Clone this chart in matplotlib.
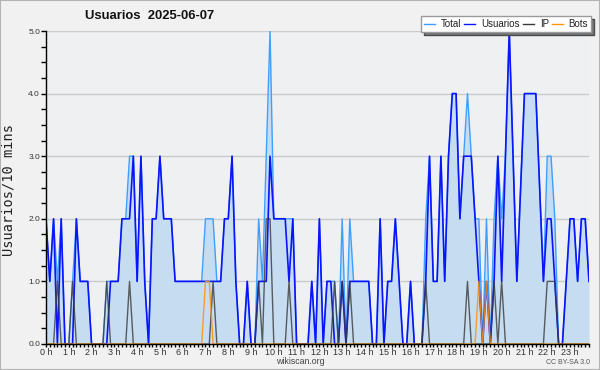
import matplotlib
matplotlib.use("Agg")
import matplotlib.pyplot as plt
from matplotlib.lines import Line2D
from matplotlib.patches import Rectangle
import numpy as np

plt.rcParams['font.family'] = ['Liberation Sans', 'DejaVu Sans']

# one value every 10 minutes, 00:00 .. 23:50
usuarios = [2, 1, 2, 0, 2, 0, 0, 0, 2, 1,
            1, 1, 0, 0, 0, 0, 0, 1, 1, 1,
            2, 2, 2, 3, 1, 3, 1, 0, 2, 2,
            3, 2, 2, 2, 1, 1, 1, 1, 1, 1,
            1, 1, 1, 1, 1, 1, 1, 2, 2, 3,
            1, 0, 0, 1, 0, 0, 1, 1, 1, 3,
            2, 2, 2, 2, 1, 2, 0, 0, 0, 0,
            1, 0, 2, 0, 1, 1, 0, 0, 1, 0,
            1, 1, 1, 1, 1, 1, 0, 0, 2, 0,
            1, 1, 2, 1, 0, 0, 1, 0, 0, 0,
            1, 3, 1, 1, 3, 1, 3, 4, 4, 2,
            3, 3, 3, 2, 1, 0, 1, 0, 1, 3,
            1, 3, 5, 3, 1, 2.5, 4, 4, 4, 4,
            2.5, 1, 2, 2, 1, 0, 0, 1, 2, 2,
            1, 2, 2, 1]

total = [2, 1, 2, 1, 2, 0, 0, 1, 2, 1,
         1, 1, 0, 0, 0, 0, 1, 1, 1, 1,
         2, 2, 3, 3, 1, 3, 1, 0, 2, 2,
         3, 2, 2, 2, 1, 1, 1, 1, 1, 1,
         1, 1, 2, 2, 2, 1, 1, 2, 2, 3,
         1, 0, 0, 1, 0, 0, 2, 1, 3, 5,
         2, 2, 2, 2, 2, 2, 0, 0, 0, 0,
         1, 0, 2, 0, 1, 1, 1, 0, 2, 0,
         2, 1, 1, 1, 1, 1, 0, 0, 2, 0,
         1, 1, 2, 1, 0, 0, 1, 0, 0, 0,
         2, 3, 1, 1, 3, 1, 3, 4, 4, 2,
         3, 4, 3, 2, 2, 0, 2, 0, 2, 3,
         2, 3, 5, 3, 1, 2.5, 4, 4, 4, 4,
         2.5, 1, 3, 3, 2, 0, 0, 1, 2, 2,
         1, 2, 2, 1]

ip = [0, 0, 0, 1, 0, 0, 0, 1, 0, 0,
      0, 0, 0, 0, 0, 0, 1, 0, 0, 0,
      0, 0, 1, 0, 0, 0, 0, 0, 0, 0,
      0, 0, 0, 0, 0, 0, 0, 0, 0, 0,
      0, 0, 0, 0, 1, 0, 0, 0, 0, 0,
      0, 0, 0, 0, 0, 0, 1, 0, 2, 2,
      0, 0, 0, 0, 1, 0, 0, 0, 0, 0,
      0, 0, 0, 0, 0, 0, 1, 0, 1, 0,
      1, 0, 0, 0, 0, 0, 0, 0, 0, 0,
      0, 0, 0, 0, 0, 0, 0, 0, 0, 0,
      1, 0, 0, 0, 0, 0, 0, 0, 0, 0,
      0, 1, 0, 0, 0, 0, 0, 0, 1, 0,
      1, 0, 0, 0, 0, 0, 0, 0, 0, 0,
      0, 0, 1, 1, 1, 0, 0, 0, 0, 0,
      0, 0, 0, 0]

bots = [0] * 144
for k in (42, 43, 114, 116):
    bots[k] = 1

hours = np.arange(len(usuarios)) / 6.0
hour_labels = ['%d h' % h for h in range(24)]

c_total = '#3f9fff'
c_usu = '#0a14ff'
c_ip = '#3a3a3a'
c_bots = '#ff9400'

fig = plt.figure(figsize=(6, 3.7), dpi=100, facecolor='#f1f1f1')
ax = fig.add_axes([46 / 600, 1 - 344 / 370, 543 / 600, 313 / 370])
ax.set_facecolor('#eef0f2')

ax.fill_between(hours, total, 0, color='#c6dcf0', lw=0, zorder=1)
ax.plot(hours, total, color=c_total, lw=1.0, zorder=3)
ax.plot(hours, usuarios, color=c_usu, lw=1.2, zorder=4)
ax.plot(hours, ip, color=c_ip, lw=1.0, alpha=0.8, zorder=5)
ax.plot(hours, bots, color=c_bots, lw=1.0, alpha=0.85, zorder=6)

ax.set_xlim(0, hours[-1])
ax.set_ylim(0, 5)

ax.set_yticks(range(6))
ax.set_yticklabels(['%.1f' % v for v in range(6)])
ax.set_yticks(np.arange(0, 5.01, 0.25), minor=True)
ax.set_xticks(range(24))
ax.set_xticklabels(hour_labels)
ax.set_xticks(np.arange(0, hours[-1] + 0.01, 1 / 6), minor=True)

ax.yaxis.grid(True, color='#cbcbcb', lw=1)
ax.set_axisbelow(True)
for s in ('top', 'right'):
    ax.spines[s].set_visible(False)
for s in ('left', 'bottom'):
    ax.spines[s].set_color('black')
    ax.spines[s].set_linewidth(1)
    ax.spines[s].set_zorder(10)

ax.tick_params(axis='y', which='both', length=3.5, width=1, color='black',
               labelsize=6, labelcolor='#333333', pad=0.8)
ax.tick_params(axis='x', which='both', length=2.2, width=1, color='black',
               labelsize=6.5, labelcolor='#333333', pad=0.5)

fig.text(9 / 600, 1 - 190 / 370, 'Usuarios/10 mins', rotation=90,
         ha='center', va='center', family='DejaVu Sans Mono', fontsize=9.8,
         color='#222222')

fig.text(0.25, 1 - 16 / 370, 'Usuarios  2025-06-07', ha='center', va='center',
         fontsize=9.4, fontweight='bold', color='#111111')
fig.text(0.5, 1 - 362 / 370, 'wikiscan.org', ha='center', va='center',
         fontsize=6.3, color='#444444')
fig.text(0.983, 1 - 362 / 370, 'CC BY-SA 3.0', ha='right', va='center',
         fontsize=5, color='#555555')

handles = [Line2D([], [], color=c_total, lw=1),
           Line2D([], [], color=c_usu, lw=1),
           Line2D([], [], color=c_ip, lw=1),
           Line2D([], [], color=c_bots, lw=1)]
leg = fig.legend(handles, ['Total', 'Usuarios', 'IP', 'Bots'],
                 loc='upper right', bbox_to_anchor=(591 / 600, 1 - 16 / 370),
                 ncol=4, fontsize=7, frameon=True, fancybox=False,
                 shadow={'facecolor': '#777777', 'alpha': 1},
                 handlelength=1.15, handletextpad=0.6, columnspacing=0.3,
                 borderpad=0.3, borderaxespad=0)
leg.get_frame().set_facecolor('white')
leg.get_frame().set_edgecolor('#9a9a9a')
leg.get_frame().set_linewidth(1)
for t in leg.get_texts():
    t.set_color('#222222')

fig.patches.append(Rectangle((0, 0), 1, 1, transform=fig.transFigure,
                             fill=False, edgecolor='#b4b4b4', lw=1.5))

fig.savefig('out.png', dpi=100, facecolor=fig.get_facecolor())
